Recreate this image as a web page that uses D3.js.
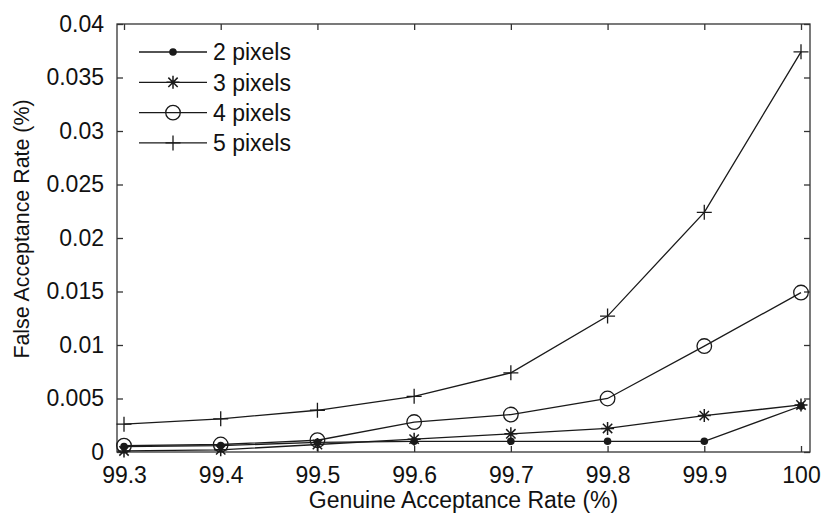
<!DOCTYPE html>
<html><head><meta charset="utf-8">
<script src="https://cdn.jsdelivr.net/npm/d3@7"></script>
<style>body{margin:0;background:#fff}text{font-family:"Liberation Sans",Arial,Helvetica,sans-serif;fill:#111}</style>
</head><body><svg id="c" width="822" height="516"></svg>
<script>
const gar = [99.3, 99.4, 99.5, 99.6, 99.7, 99.8, 99.9, 100];
const far2 = [0.0005, 0.0006, 0.0009, 0.0010, 0.0010, 0.0010, 0.0010, 0.0043];
const far3 = [0.0001, 0.0002, 0.0007, 0.0012, 0.0017, 0.0022, 0.0034, 0.0044];
const far4 = [0.0006, 0.0007, 0.0011, 0.0028, 0.0035, 0.0050, 0.0099, 0.0149];
const far5 = [0.0026, 0.0031, 0.0039, 0.0052, 0.0074, 0.0127, 0.0224, 0.0374];
const seriesNames = ["2 pixels", "3 pixels", "4 pixels", "5 pixels"];
const markers = ["dot", "star", "circle", "plus"];
const xTicks = [99.3, 99.4, 99.5, 99.6, 99.7, 99.8, 99.9, 100];
const yTicks = [0, 0.005, 0.01, 0.015, 0.02, 0.025, 0.03, 0.035, 0.04];
const xTitle = "Genuine Acceptance Rate (%)";
const yTitle = "False Acceptance Rate (%)";

const svg = d3.select("#c");
const box = {l:117, r:810, t:24, b:452};
const x = d3.scaleLinear().domain([99.3, 100]).range([124, 801]);
const y = d3.scaleLinear().domain([0, 0.04]).range([box.b, box.t]);
const ink = "#1a1a1a";
const fs = 23;

// box
svg.append("rect").attr("x",box.l).attr("y",box.t).attr("width",box.r-box.l).attr("height",box.b-box.t)
  .attr("fill","none").attr("stroke","#333").attr("stroke-width",1.3);

// axes (inner ticks)
const tl = 6;
const gx = svg.append("g").attr("transform",`translate(0,${box.b})`)
  .call(d3.axisBottom(x).tickValues(xTicks).tickSizeInner(-tl).tickSizeOuter(0).tickPadding(tl+9).tickFormat(d=>d3.format("")(d)));
const gxt = svg.append("g").attr("transform",`translate(0,${box.t})`)
  .call(d3.axisTop(x).tickValues(xTicks).tickSizeInner(-tl).tickSizeOuter(0).tickFormat(""));
const gy = svg.append("g").attr("transform",`translate(${box.l},0)`)
  .call(d3.axisLeft(y).tickValues(yTicks).tickSizeInner(-tl).tickSizeOuter(0).tickPadding(tl+7).tickFormat(d=>d3.format("")(+d.toFixed(3))));
const gyr = svg.append("g").attr("transform",`translate(${box.r},0)`)
  .call(d3.axisRight(y).tickValues(yTicks).tickSizeInner(-tl).tickSizeOuter(0).tickFormat(""));
[gx,gxt,gy,gyr].forEach(g=>{
  g.select(".domain").remove();
  g.selectAll(".tick line").attr("stroke","#333").attr("stroke-width",1.3);
  g.selectAll("text").attr("font-size",fs).attr("fill","#111").attr("font-family","Liberation Sans, Arial, sans-serif");
});
gx.selectAll(".tick text").attr("dy","0.71em");

// titles
svg.append("text").attr("x",(box.l+box.r)/2).attr("y",508).attr("text-anchor","middle").attr("font-size",fs).text(xTitle);
svg.append("text").attr("transform",`translate(29,229) rotate(-90)`).attr("text-anchor","middle").attr("font-size",21.4).text(yTitle);

// marker drawing
function drawMarker(g, type, cx, cy){
  if(type==="dot"){
    g.append("circle").attr("cx",cx).attr("cy",cy).attr("r",3.8).attr("fill",ink);
  } else if(type==="circle"){
    g.append("circle").attr("cx",cx).attr("cy",cy).attr("r",7.3).attr("fill","none").attr("stroke",ink).attr("stroke-width",1.3);
  } else if(type==="plus"){
    const s=7.5;
    g.append("path").attr("d",`M${cx-s},${cy}H${cx+s}M${cx},${cy-s}V${cy+s}`).attr("stroke",ink).attr("stroke-width",1.3);
  } else if(type==="star"){
    const s=6.5, d=s*0.72;
    g.append("path").attr("d",`M${cx-s},${cy}H${cx+s}M${cx},${cy-s}V${cy+s}M${cx-d},${cy-d}L${cx+d},${cy+d}M${cx-d},${cy+d}L${cx+d},${cy-d}`)
      .attr("stroke",ink).attr("stroke-width",1.5);
  }
}

const allSeries = [far2, far3, far4, far5];
const line = d3.line().x((d,i)=>x(gar[i])).y(d=>y(d));
allSeries.forEach((vals, si)=>{
  const g = svg.append("g");
  g.append("path").datum(vals).attr("d",line).attr("fill","none").attr("stroke",ink).attr("stroke-width",1.3);
  vals.forEach((v,i)=>drawMarker(g, markers[si], x(gar[i]), y(v)));
});

// legend
const lg = svg.append("g");
seriesNames.forEach((name, i)=>{
  const ly = 52 + i*30.3;
  lg.append("line").attr("x1",139).attr("x2",207).attr("y1",ly).attr("y2",ly).attr("stroke",ink).attr("stroke-width",1.3);
  drawMarker(lg, markers[i], 173, ly);
  lg.append("text").attr("x",213).attr("y",ly).attr("dy","0.36em").attr("font-size",fs).text(name);
});
</script></body></html>
